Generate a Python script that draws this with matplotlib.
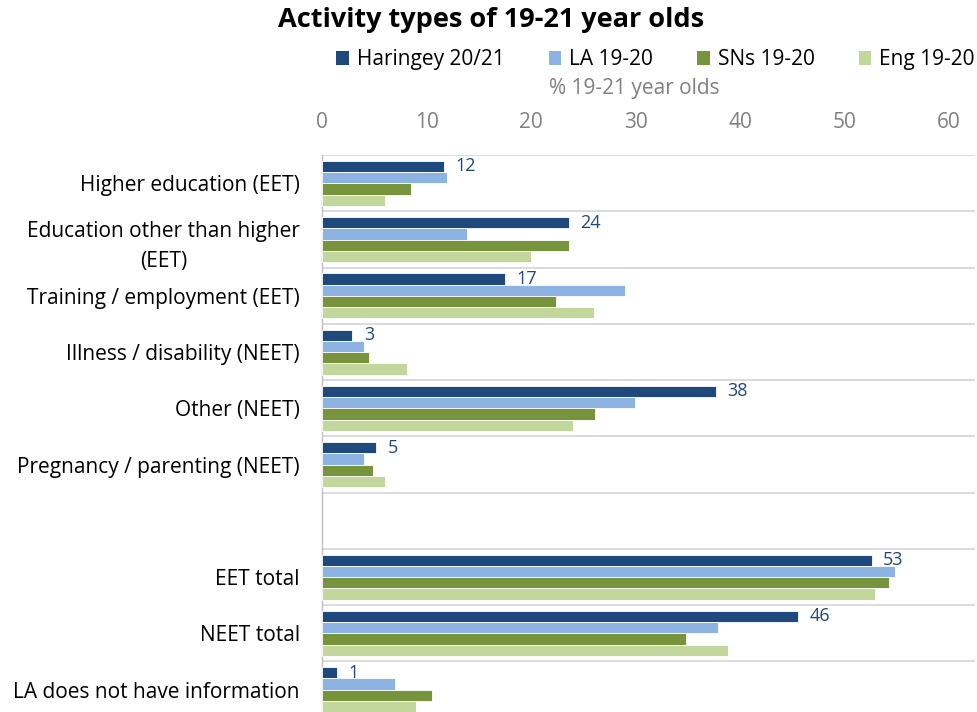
import numpy as np
import matplotlib.pyplot as plt
from matplotlib.patches import Patch

plt.rcParams['font.family'] = ['Open Sans', 'DejaVu Sans']

# Categorías (el hueco en blanco separa los totales)
categorias = ["Higher education (EET)",
              "Education other than higher\n(EET)",
              "Training / employment (EET)",
              "Illness / disability (NEET)",
              "Other (NEET)",
              "Pregnancy / parenting (NEET)",
              "",
              "EET total",
              "NEET total",
              "LA does not have information"]

series = ["Haringey 20/21", "LA 19-20", "SNs 19-20", "Eng 19-20"]
haringey = [11.7, 23.6, 17.5, 2.9, 37.7, 5.2, np.nan, 52.6, 45.6, 1.4]
la = [12.0, 13.9, 29.0, 4.0, 30.0, 4.0, np.nan, 54.8, 37.9, 7.0]
sns_ = [8.5, 23.6, 22.4, 4.5, 26.1, 4.9, np.nan, 54.3, 34.8, 10.5]
eng = [6.0, 20.0, 26.0, 8.1, 24.0, 6.0, np.nan, 52.9, 38.9, 9.0]
etiquetas = ["12", "24", "17", "3", "38", "5", "", "53", "46", "1"]

colores = ["#1F497D", "#8DB3E2", "#77933C", "#C3D69B"]

fig = plt.figure(figsize=(9.77, 7.12), dpi=100)
ax = fig.add_axes([0.3296, -0.008, 0.6684, 0.79])

n = len(categorias)
y = np.arange(n)
alto = 0.2
datos = [haringey, la, sns_, eng]
for i, (vals, col) in enumerate(zip(datos, colores)):
    ax.barh(y - 0.3 + i * alto, vals, height=alto, color=col,
            edgecolor="white", linewidth=0.6, zorder=3)

# Etiquetas de Haringey
for yi, v, t in zip(y, haringey, etiquetas):
    if t:
        ax.text(v + 1.1, yi - 0.3, t, va="center", ha="left",
                fontsize=13, color="#1F497D", zorder=4)

ax.set_ylim(n - 0.5, -0.5)
ax.set_xlim(0, 62.5)
ax.set_yticks(y)
ax.set_yticklabels(categorias, fontsize=15, multialignment="center",
                   linespacing=1.55)
ax.tick_params(axis="y", length=0, pad=16)

# Eje x arriba
ax.xaxis.tick_top()
ax.set_xticks(np.arange(0, 61, 10))
ax.tick_params(axis="x", length=0, labelsize=15, colors="#808080", pad=16)
fig.text(0.649, 0.876, "% 19-21 year olds", fontsize=15, color="#808080",
         ha="center", va="center")

# Líneas de separación horizontales
for b in np.arange(-0.5, n + 0.5, 1):
    ax.axhline(b, color="#D9D9D9", linewidth=1.3, zorder=1)

for s in ["top", "right", "bottom"]:
    ax.spines[s].set_visible(False)
ax.spines["left"].set_color("#BFBFBF")
ax.spines["left"].set_linewidth(1.0)

fig.suptitle("Activity types of 19-21 year olds", fontsize=19.5,
             fontweight="bold", x=0.503, y=0.99)

handles = [Patch(facecolor=c) for c in colores]
fig.legend(handles, series, loc="center", bbox_to_anchor=(0.671, 0.916),
           ncol=4, frameon=False, fontsize=15, handlelength=0.6,
           handleheight=0.6, handletextpad=0.4, columnspacing=2.1)

fig.savefig("out.png", dpi=100)
